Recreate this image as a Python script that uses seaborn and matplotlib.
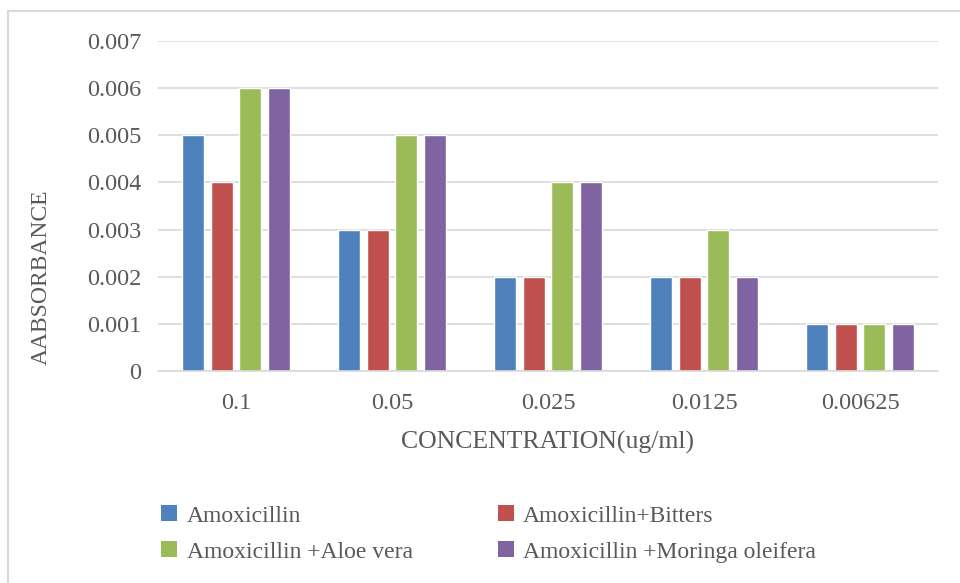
import matplotlib
matplotlib.use("Agg")
import matplotlib.pyplot as plt
import seaborn as sns
import pandas as pd
from matplotlib.patches import Rectangle, Patch

concentrations = ["0.1", "0.05", "0.025", "0.0125", "0.00625"]
series_names = ["Amoxicillin", "Amoxicillin+Bitters",
                "Amoxicillin +Aloe vera", "Amoxicillin +Moringa oleifera"]
amoxicillin = [0.005, 0.003, 0.002, 0.002, 0.001]
amox_bitters = [0.004, 0.003, 0.002, 0.002, 0.001]
amox_aloe = [0.006, 0.005, 0.004, 0.003, 0.001]
amox_moringa = [0.006, 0.005, 0.004, 0.002, 0.001]
colors = ["#4F81BD", "#C0504D", "#9BBB59", "#8064A2"]

rows = []
for name, vals in zip(series_names, [amoxicillin, amox_bitters, amox_aloe, amox_moringa]):
    for c, v in zip(concentrations, vals):
        rows.append({"conc": c, "series": name, "value": v})
df = pd.DataFrame(rows)

sns.set_style("white")
plt.rcParams["font.family"] = ["Liberation Serif", "DejaVu Serif"]
text_color = "#595959"

fig = plt.figure(figsize=(9.6, 5.83), dpi=100)
ax = fig.add_axes([158/960, 1 - 371/583, (938-158)/960, (371-41)/583])

sns.barplot(data=df, x="conc", y="value", hue="series", order=concentrations,
            hue_order=series_names, palette=colors, width=0.73, gap=0.23,
            saturation=1, ax=ax, legend=False)

ax.set_xlim(-0.5, 4.5)
ax.set_ylim(0, 0.007)
ax.set_yticks([0, 0.001, 0.002, 0.003, 0.004, 0.005, 0.006, 0.007])
ax.set_yticklabels(["0", "0.001", "0.002", "0.003", "0.004", "0.005", "0.006", "0.007"])
ax.yaxis.grid(True, color="#D9D9D9", linewidth=1.2)
ax.set_axisbelow(True)
for s in ["top", "right", "left"]:
    ax.spines[s].set_visible(False)
ax.spines["bottom"].set_color("#D9D9D9")
ax.spines["bottom"].set_linewidth(1.2)
ax.tick_params(axis="both", length=0, labelsize=17.5, colors=text_color)
ax.tick_params(axis="y", pad=12)
ax.tick_params(axis="x", pad=16)
ax.set_xlabel("CONCENTRATION(ug/ml)", fontsize=18.5, color=text_color, labelpad=12)
ax.set_ylabel("AABSORBANCE", fontsize=17, color=text_color)
ax.yaxis.set_label_coords(-0.136, 0.285)

# outer chart border
fig.patches.append(Rectangle((8/960, -0.05), 1.2, 1 - 11/583 + 0.05,
                             transform=fig.transFigure, fill=False,
                             edgecolor="#D9D9D9", linewidth=1.5))

# row-major legend order: matplotlib fills columns first
order = [0, 2, 1, 3]
handles = [Patch(facecolor=colors[i], edgecolor="none") for i in order]
labels = [series_names[i] for i in order]
fig.legend(handles, labels, loc="upper left", ncol=2,
           bbox_to_anchor=(140/960, 1 - 484/583), frameon=False,
           fontsize=17, labelcolor=text_color, handlelength=0.68,
           handleheight=0.68, handletextpad=0.4, columnspacing=3.6,
           labelspacing=0.62)

fig.savefig("out.png", dpi=100)
